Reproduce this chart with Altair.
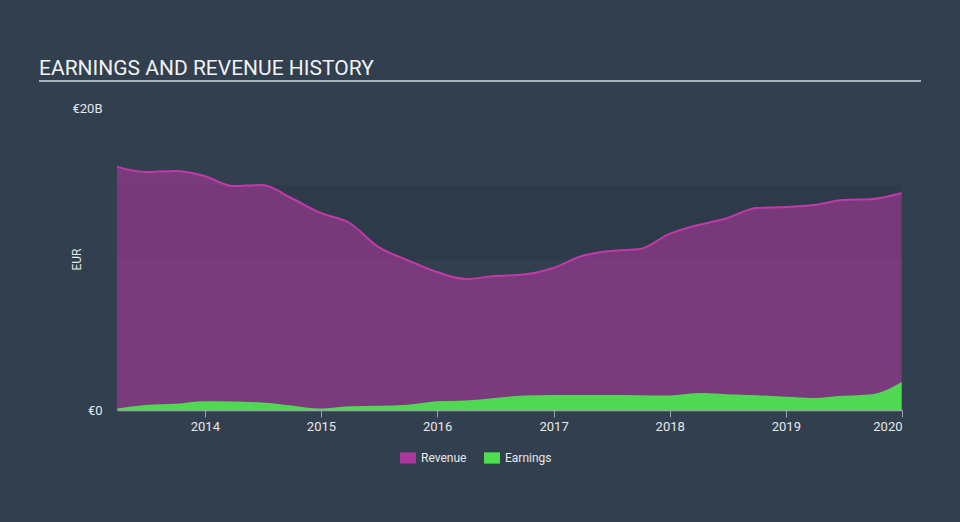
import altair as alt
import pandas as pd

# ---------------- data ----------------
dates = [
    "2013-03-31", "2013-06-30", "2013-09-30", "2013-12-31",
    "2014-03-31", "2014-06-30", "2014-09-30", "2014-12-31",
    "2015-03-31", "2015-06-30", "2015-09-30", "2015-12-31",
    "2016-03-31", "2016-06-30", "2016-09-30", "2016-12-31",
    "2017-03-31", "2017-06-30", "2017-09-30", "2017-12-31",
    "2018-03-31", "2018-06-30", "2018-09-30", "2018-12-31",
    "2019-03-31", "2019-06-30", "2019-09-30", "2019-12-31",
]
revenue = [16.1, 15.76, 15.83, 15.5, 14.83, 14.9, 14.04, 13.05,
           12.4, 10.8, 9.93, 9.14, 8.68, 8.87, 8.97, 9.4,
           10.2, 10.53, 10.66, 11.66, 12.25, 12.7, 13.38, 13.44,
           13.58, 13.9, 13.97, 14.37]
earnings = [0.1, 0.33, 0.41, 0.58, 0.56, 0.5, 0.3, 0.1,
            0.25, 0.28, 0.35, 0.58, 0.63, 0.8, 0.96, 1.0,
            1.0, 1.0, 0.98, 0.96, 1.12, 1.05, 0.97, 0.88,
            0.8, 0.95, 1.05, 1.85]
series_names = ["Revenue", "Earnings"]
series_colors = ["#a9389b", "#4fe050"]
band_low = [9.93]
band_high = [14.9]
x_domain = ["2013-03-31", "2020-01-01"]
year_ticks = [2014, 2015, 2016, 2017, 2018, 2019, 2020]
y_ticks = [0, 20]
title_text = "EARNINGS AND REVENUE HISTORY"

BG = "#323f4f"
TXT = "#e6e8ea"
FONT = "Roboto"

rev_df = pd.DataFrame({"date": dates, "value": revenue, "series": "Revenue"})
earn_df = pd.DataFrame({"date": dates, "value": earnings, "series": "Earnings"})
band_df = pd.DataFrame({"date": [x_domain[0]], "date2": [x_domain[1]],
                        "value": band_low, "value2": band_high})

def dt(s):
    y, m, d = (int(v) for v in s.split("-"))
    return alt.DateTime(year=y, month=m, date=d, utc=True)

x_scale = alt.Scale(type="utc", domain=[dt(x_domain[0]), dt(x_domain[1])], nice=False)
y_scale = alt.Scale(domain=[0, 20], nice=False)

x_axis = alt.Axis(
    values=[alt.DateTime(year=y, month=1, date=1, utc=True) for y in year_ticks],
    format="%Y", formatType="time", grid=False, domain=True, domainColor="#9aa3ad",
    domainWidth=1.5, ticks=True, tickColor="#9aa3ad", tickSize=7, tickWidth=1,
    labelColor=TXT, labelFontSize=13, labelFont=FONT, labelPadding=3,
    labelFlush=True, title=None,
)
y_axis = alt.Axis(
    values=y_ticks, grid=False, domain=False, ticks=False, tickSize=0,
    labelColor=TXT, labelFontSize=13, labelFont=FONT, labelPadding=15,
    labelExpr="datum.value == 0 ? '€0' : '€' + datum.value + 'B'",
    title="EUR", titleColor=TXT, titleFontSize=12, titleFont=FONT,
    titleFontWeight="normal", titleX=-41, titleY=151, titleBaseline="middle",
    titleAngle=270, titleAlign="center",
)

color_enc = alt.Color(
    "series:N",
    scale=alt.Scale(domain=series_names, range=series_colors),
    legend=alt.Legend(
        title=None, orient="none", legendX=283, legendY=342, direction="horizontal",
        symbolType="M-1,-0.7L1,-0.7L1,0.7L-1,0.7Z", symbolSize=256,
        symbolOpacity=1, symbolStrokeWidth=0,
        labelColor=TXT, labelFontSize=12, labelFont=FONT, labelOffset=5,
        columnPadding=17,
    ),
)

band = alt.Chart(band_df).mark_rect(color="#1f2a36", opacity=0.25).encode(
    x=alt.X("date:T", scale=x_scale, axis=x_axis),
    x2="date2:T",
    y=alt.Y("value:Q", scale=y_scale, axis=y_axis),
    y2="value2:Q",
)

rev_area = alt.Chart(rev_df).mark_area(interpolate="monotone", fillOpacity=0.6).encode(
    x=alt.X("date:T", scale=x_scale, axis=x_axis),
    y=alt.Y("value:Q", scale=y_scale, axis=y_axis),
    color=color_enc,
)
rev_line = alt.Chart(rev_df).mark_line(interpolate="monotone", color="#c23aa9", strokeWidth=2).encode(
    x=alt.X("date:T", scale=x_scale, axis=x_axis),
    y=alt.Y("value:Q", scale=y_scale, axis=y_axis),
)
earn_area = alt.Chart(earn_df).mark_area(interpolate="monotone", fillOpacity=0.95).encode(
    x=alt.X("date:T", scale=x_scale, axis=x_axis),
    y=alt.Y("value:Q", scale=y_scale, axis=y_axis),
    color=color_enc,
)

title_mark = alt.Chart(pd.DataFrame({"t": [title_text]})).mark_text(
    align="left", baseline="alphabetic", fontSize=21, font=FONT, color="#f0f2f4"
).encode(x=alt.value(-78), y=alt.value(-33), text="t:N")

underline = alt.Chart(pd.DataFrame({"a": [0]})).mark_rule(
    color="#a9b1ba", strokeWidth=2
).encode(x=alt.value(-78), x2=alt.value(804), y=alt.value(-27))

chart = alt.layer(band, rev_area, rev_line, earn_area, title_mark, underline).properties(
    width=785, height=302,
    autosize=alt.AutoSizeParams(type="none"),
    padding={"left": 117, "top": 108, "right": 58, "bottom": 112},
    background=BG,
).configure_view(stroke=None)

chart.save("out.html", embed_options={"renderer": "svg", "actions": False})
